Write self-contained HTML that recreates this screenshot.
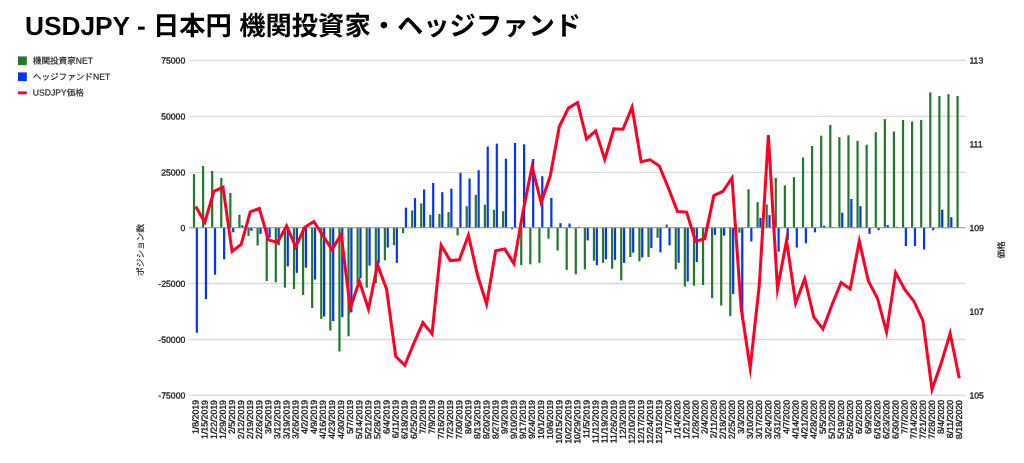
<!DOCTYPE html><html><head><meta charset="utf-8"><title>USDJPY</title><style>html,body{margin:0;padding:0;background:#fff}svg{display:block}text{font-family:"Liberation Sans","Noto Sans CJK JP",sans-serif;text-rendering:geometricPrecision}</style></head><body>
<svg style="will-change:transform;filter:blur(0.3px)" width="1024" height="463" viewBox="0 0 1024 463">
<rect width="1024" height="463" fill="#fff"/>
<text x="24.9" y="35.4" font-size="26.3" font-weight="bold" fill="#000">USDJPY - 日本円 機関投資家・ヘッジファンド</text>
<rect x="18" y="56.4" width="8.8" height="8.7" fill="#207a2a"/>
<rect x="18" y="72.4" width="8.8" height="8.7" fill="#0433ff"/>
<rect x="18" y="91.4" width="8.8" height="2.9" fill="#ff0024"/>
<g font-size="8.6" fill="#1a1a1a" stroke="#1a1a1a" stroke-width="0.15">
<text transform="translate(32.8 63.7) rotate(0.05)">機関投資家NET</text>
<text transform="translate(32.8 79.7) rotate(0.05)">ヘッジファンドNET</text>
<text transform="translate(32.8 95.6) rotate(0.05)">USDJPY価格</text>
</g>
<g stroke="#dadada" stroke-width="1.3">
<line x1="189.2" x2="965.5" y1="60.3" y2="60.3"/>
<line x1="189.2" x2="965.5" y1="116.3" y2="116.3"/>
<line x1="189.2" x2="965.5" y1="172.3" y2="172.3"/>
<line x1="189.2" x2="965.5" y1="283.5" y2="283.5"/>
<line x1="189.2" x2="965.5" y1="339.5" y2="339.5"/>
<line x1="189.2" x2="965.5" y1="395.3" y2="395.3"/>
</g>
<g fill="#207a2a">
<rect x="192.9" y="174.1" width="2.2" height="53.65"/>
<rect x="201.99" y="166.1" width="2.2" height="61.65"/>
<rect x="211.08" y="171" width="2.2" height="56.75"/>
<rect x="220.17" y="177.8" width="2.2" height="49.95"/>
<rect x="229.26" y="193" width="2.2" height="34.75"/>
<rect x="238.35" y="214.8" width="2.2" height="12.95"/>
<rect x="247.44" y="227.75" width="2.2" height="8.05"/>
<rect x="256.53" y="227.75" width="2.2" height="17.75"/>
<rect x="265.62" y="227.75" width="2.2" height="53.25"/>
<rect x="274.71" y="227.75" width="2.2" height="54.55"/>
<rect x="283.8" y="227.75" width="2.2" height="59.85"/>
<rect x="292.89" y="227.75" width="2.2" height="61.25"/>
<rect x="301.98" y="227.75" width="2.2" height="67.15"/>
<rect x="311.07" y="227.75" width="2.2" height="80.25"/>
<rect x="320.16" y="227.75" width="2.2" height="91.15"/>
<rect x="329.25" y="227.75" width="2.2" height="102.75"/>
<rect x="338.34" y="227.75" width="2.2" height="123.75"/>
<rect x="347.43" y="227.75" width="2.2" height="108.55"/>
<rect x="356.52" y="227.75" width="2.2" height="55.75"/>
<rect x="365.61" y="227.75" width="2.2" height="59.95"/>
<rect x="374.7" y="227.75" width="2.2" height="55.25"/>
<rect x="383.79" y="227.75" width="2.2" height="32.55"/>
<rect x="392.88" y="227.75" width="2.2" height="17.45"/>
<rect x="401.97" y="227.75" width="2.2" height="5.35"/>
<rect x="411.06" y="210.4" width="2.2" height="17.35"/>
<rect x="420.15" y="203.4" width="2.2" height="24.35"/>
<rect x="429.24" y="214.8" width="2.2" height="12.95"/>
<rect x="438.33" y="214" width="2.2" height="13.75"/>
<rect x="447.42" y="212.1" width="2.2" height="15.65"/>
<rect x="456.51" y="227.75" width="2.2" height="7.65"/>
<rect x="465.6" y="206.2" width="2.2" height="21.55"/>
<rect x="474.69" y="194.8" width="2.2" height="32.95"/>
<rect x="483.78" y="204.7" width="2.2" height="23.05"/>
<rect x="492.87" y="209.7" width="2.2" height="18.05"/>
<rect x="501.96" y="211.2" width="2.2" height="16.55"/>
<rect x="511.05" y="227.75" width="2.2" height="1.55"/>
<rect x="520.14" y="227.75" width="2.2" height="37.45"/>
<rect x="529.23" y="227.75" width="2.2" height="36.55"/>
<rect x="538.32" y="227.75" width="2.2" height="35.15"/>
<rect x="547.41" y="227.75" width="2.2" height="10.95"/>
<rect x="556.5" y="227.75" width="2.2" height="22.75"/>
<rect x="565.59" y="227.75" width="2.2" height="42.15"/>
<rect x="574.68" y="227.75" width="2.2" height="46.65"/>
<rect x="583.77" y="227.75" width="2.2" height="41.65"/>
<rect x="592.86" y="227.75" width="2.2" height="32.85"/>
<rect x="601.95" y="227.75" width="2.2" height="35.15"/>
<rect x="611.04" y="227.75" width="2.2" height="40.95"/>
<rect x="620.13" y="227.75" width="2.2" height="52.55"/>
<rect x="629.22" y="227.75" width="2.2" height="29.25"/>
<rect x="638.31" y="227.75" width="2.2" height="33.55"/>
<rect x="647.4" y="227.75" width="2.2" height="29.25"/>
<rect x="656.49" y="227.75" width="2.2" height="10.05"/>
<rect x="665.58" y="224.5" width="2.2" height="3.25"/>
<rect x="674.67" y="227.75" width="2.2" height="41.55"/>
<rect x="683.76" y="227.75" width="2.2" height="58.75"/>
<rect x="692.85" y="227.75" width="2.2" height="57.85"/>
<rect x="701.94" y="227.75" width="2.2" height="57.25"/>
<rect x="711.03" y="227.75" width="2.2" height="70.45"/>
<rect x="720.12" y="227.75" width="2.2" height="77.75"/>
<rect x="729.21" y="227.75" width="2.2" height="88.55"/>
<rect x="738.3" y="227.75" width="2.2" height="4.95"/>
<rect x="747.39" y="189.3" width="2.2" height="38.45"/>
<rect x="756.48" y="202.1" width="2.2" height="25.65"/>
<rect x="765.57" y="204.4" width="2.2" height="23.35"/>
<rect x="774.66" y="178" width="2.2" height="49.75"/>
<rect x="783.75" y="185.4" width="2.2" height="42.35"/>
<rect x="792.84" y="177.2" width="2.2" height="50.55"/>
<rect x="801.93" y="157.5" width="2.2" height="70.25"/>
<rect x="811.02" y="146" width="2.2" height="81.75"/>
<rect x="820.11" y="135.7" width="2.2" height="92.05"/>
<rect x="829.2" y="125" width="2.2" height="102.75"/>
<rect x="838.29" y="137.2" width="2.2" height="90.55"/>
<rect x="847.38" y="135.3" width="2.2" height="92.45"/>
<rect x="856.47" y="140.9" width="2.2" height="86.85"/>
<rect x="865.56" y="144.7" width="2.2" height="83.05"/>
<rect x="874.65" y="132.2" width="2.2" height="95.55"/>
<rect x="883.74" y="119.2" width="2.2" height="108.55"/>
<rect x="892.83" y="131.5" width="2.2" height="96.25"/>
<rect x="901.92" y="120" width="2.2" height="107.75"/>
<rect x="911.01" y="121.5" width="2.2" height="106.25"/>
<rect x="920.1" y="120" width="2.2" height="107.75"/>
<rect x="929.19" y="92.4" width="2.2" height="135.35"/>
<rect x="938.28" y="96" width="2.2" height="131.75"/>
<rect x="947.37" y="94.2" width="2.2" height="133.55"/>
<rect x="956.46" y="96" width="2.2" height="131.75"/>
</g>
<g fill="#0433ff">
<rect x="195.75" y="227.75" width="2.2" height="104.95"/>
<rect x="204.84" y="227.75" width="2.2" height="71.35"/>
<rect x="213.93" y="227.75" width="2.2" height="46.95"/>
<rect x="223.02" y="227.75" width="2.2" height="31.55"/>
<rect x="232.11" y="227.75" width="2.2" height="4.55"/>
<rect x="241.2" y="225.3" width="2.2" height="2.45"/>
<rect x="250.29" y="227.75" width="2.2" height="3.05"/>
<rect x="259.38" y="227.75" width="2.2" height="6.15"/>
<rect x="268.47" y="227.75" width="2.2" height="9.85"/>
<rect x="277.56" y="227.75" width="2.2" height="17.45"/>
<rect x="286.65" y="227.75" width="2.2" height="38.65"/>
<rect x="295.74" y="227.75" width="2.2" height="45.15"/>
<rect x="304.83" y="227.75" width="2.2" height="39.95"/>
<rect x="313.92" y="227.75" width="2.2" height="51.85"/>
<rect x="323.01" y="227.75" width="2.2" height="88.85"/>
<rect x="332.1" y="227.75" width="2.2" height="93.25"/>
<rect x="341.19" y="227.75" width="2.2" height="89.45"/>
<rect x="350.28" y="227.75" width="2.2" height="84.55"/>
<rect x="359.37" y="227.75" width="2.2" height="50.55"/>
<rect x="368.46" y="227.75" width="2.2" height="37.85"/>
<rect x="377.55" y="227.75" width="2.2" height="35.75"/>
<rect x="386.64" y="227.75" width="2.2" height="19.75"/>
<rect x="395.73" y="227.75" width="2.2" height="35.15"/>
<rect x="404.82" y="207.7" width="2.2" height="20.05"/>
<rect x="413.91" y="198.1" width="2.2" height="29.65"/>
<rect x="423" y="189.5" width="2.2" height="38.25"/>
<rect x="432.09" y="183" width="2.2" height="44.75"/>
<rect x="441.18" y="192.2" width="2.2" height="35.55"/>
<rect x="450.27" y="188.8" width="2.2" height="38.95"/>
<rect x="459.36" y="172.9" width="2.2" height="54.85"/>
<rect x="468.45" y="178.5" width="2.2" height="49.25"/>
<rect x="477.54" y="170.2" width="2.2" height="57.55"/>
<rect x="486.63" y="146.5" width="2.2" height="81.25"/>
<rect x="495.72" y="143.6" width="2.2" height="84.15"/>
<rect x="504.81" y="158.7" width="2.2" height="69.05"/>
<rect x="513.9" y="143" width="2.2" height="84.75"/>
<rect x="522.99" y="144.4" width="2.2" height="83.35"/>
<rect x="532.08" y="159" width="2.2" height="68.75"/>
<rect x="541.17" y="176.2" width="2.2" height="51.55"/>
<rect x="550.26" y="198" width="2.2" height="29.75"/>
<rect x="559.35" y="223.2" width="2.2" height="4.55"/>
<rect x="568.44" y="223.5" width="2.2" height="4.25"/>
<rect x="577.53" y="226.8" width="2.2" height="0.95"/>
<rect x="586.62" y="227.75" width="2.2" height="12.65"/>
<rect x="595.71" y="227.75" width="2.2" height="37.45"/>
<rect x="604.8" y="227.75" width="2.2" height="31.55"/>
<rect x="613.89" y="227.75" width="2.2" height="32.15"/>
<rect x="622.98" y="227.75" width="2.2" height="35.15"/>
<rect x="632.07" y="227.75" width="2.2" height="24.85"/>
<rect x="641.16" y="227.75" width="2.2" height="29.75"/>
<rect x="650.25" y="227.75" width="2.2" height="20.35"/>
<rect x="659.34" y="227.75" width="2.2" height="24.65"/>
<rect x="668.43" y="227.75" width="2.2" height="17.55"/>
<rect x="677.52" y="227.75" width="2.2" height="35.05"/>
<rect x="686.61" y="227.75" width="2.2" height="53.75"/>
<rect x="695.7" y="227.75" width="2.2" height="34.25"/>
<rect x="704.79" y="227.75" width="2.2" height="8.75"/>
<rect x="713.88" y="227.75" width="2.2" height="7.15"/>
<rect x="722.97" y="227.75" width="2.2" height="7.95"/>
<rect x="732.06" y="227.75" width="2.2" height="66.15"/>
<rect x="741.15" y="227.75" width="2.2" height="91.95"/>
<rect x="750.24" y="227.75" width="2.2" height="13.75"/>
<rect x="759.33" y="217.8" width="2.2" height="9.95"/>
<rect x="768.42" y="215.1" width="2.2" height="12.65"/>
<rect x="777.51" y="227.75" width="2.2" height="23.95"/>
<rect x="786.6" y="227.75" width="2.2" height="12.35"/>
<rect x="795.69" y="227.75" width="2.2" height="19.85"/>
<rect x="804.78" y="227.75" width="2.2" height="15.55"/>
<rect x="813.87" y="227.75" width="2.2" height="4.55"/>
<rect x="822.96" y="225.7" width="2.2" height="2.05"/>
<rect x="832.05" y="227.1" width="2.2" height="0.65"/>
<rect x="841.14" y="212.7" width="2.2" height="15.05"/>
<rect x="850.23" y="199" width="2.2" height="28.75"/>
<rect x="859.32" y="206.2" width="2.2" height="21.55"/>
<rect x="868.41" y="227.75" width="2.2" height="6.15"/>
<rect x="877.5" y="227.75" width="2.2" height="2.45"/>
<rect x="886.59" y="225.1" width="2.2" height="2.65"/>
<rect x="895.68" y="226.8" width="2.2" height="0.95"/>
<rect x="904.77" y="227.75" width="2.2" height="18.35"/>
<rect x="913.86" y="227.75" width="2.2" height="18.35"/>
<rect x="922.95" y="227.75" width="2.2" height="21.75"/>
<rect x="932.04" y="227.75" width="2.2" height="2.45"/>
<rect x="941.13" y="209.7" width="2.2" height="18.05"/>
<rect x="950.22" y="217.2" width="2.2" height="10.55"/>
</g>
<line x1="189.2" x2="965.5" y1="227.75" y2="227.75" stroke="#8a8a8a" stroke-width="1"/>
<polyline fill="none" stroke="#ff0024" stroke-width="3" stroke-linejoin="miter" stroke-miterlimit="10" points="195.7,206.6 204.79,222.2 213.88,191.3 222.97,187.1 232.06,251.5 241.15,244.4 250.24,211.9 259.33,208.4 268.42,239.9 277.51,242.4 286.6,225.8 295.69,246.9 304.78,227.3 313.87,221.5 322.96,235.7 332.05,249.6 341.14,234.2 350.23,308.2 359.32,281.1 368.41,309.2 377.5,264.7 386.59,289.2 395.68,356.2 404.77,365.2 413.86,343.2 422.95,322.6 432.04,333.9 441.13,245.1 450.22,260.6 459.31,259.8 468.4,235.2 477.49,275 486.58,304 495.67,250.8 504.76,248.9 513.85,263.6 522.94,212 532.03,166.5 541.12,202.7 550.21,176 559.3,126.5 568.39,108.1 577.48,102.5 586.57,138.9 595.66,130.8 604.75,159.5 613.84,128.8 622.93,129.2 632.02,107.1 641.11,161.7 650.2,159.8 659.29,165.9 668.38,188 677.47,211.6 686.56,212.1 695.65,241.5 704.74,238.8 713.83,195.6 722.92,191.4 732.01,178 741.1,307.8 750.19,368.2 759.28,285 768.37,135.1 777.46,288.7 786.55,240.6 795.64,303.2 804.73,278.7 813.82,317.2 822.91,329 832,304.7 841.09,282.5 850.18,289 859.27,241.1 868.36,281 877.45,298.2 886.54,331.9 895.63,272.6 904.72,289.5 913.81,301.2 922.9,320.6 931.99,389.5 941.08,363.5 950.17,333.4 959.26,378.2"/>
<g font-size="8.7" fill="#1a1a1a" stroke="#1a1a1a" stroke-width="0.3">
<text transform="translate(185.3 63.55) rotate(0.05)" text-anchor="end">75000</text>
<text transform="translate(185.3 119.55) rotate(0.05)" text-anchor="end">50000</text>
<text transform="translate(185.3 175.55) rotate(0.05)" text-anchor="end">25000</text>
<text transform="translate(185.3 231) rotate(0.05)" text-anchor="end">0</text>
<text transform="translate(185.3 286.75) rotate(0.05)" text-anchor="end">-25000</text>
<text transform="translate(185.3 342.75) rotate(0.05)" text-anchor="end">-50000</text>
<text transform="translate(185.3 398.55) rotate(0.05)" text-anchor="end">-75000</text>
<text transform="translate(969.4 63.55) rotate(0.05)">113</text>
<text transform="translate(969.4 147.3) rotate(0.05)">111</text>
<text transform="translate(969.4 231.05) rotate(0.05)">109</text>
<text transform="translate(969.4 314.8) rotate(0.05)">107</text>
<text transform="translate(969.4 398.55) rotate(0.05)">105</text>
</g>
<g font-size="8.75" fill="#111" stroke="#111" stroke-width="0.3" text-anchor="end">
<text transform="translate(198.55 400) rotate(-89.9)">1/8/2019</text>
<text transform="translate(207.64 400) rotate(-89.9)">1/15/2019</text>
<text transform="translate(216.73 400) rotate(-89.9)">1/22/2019</text>
<text transform="translate(225.82 400) rotate(-89.9)">1/29/2019</text>
<text transform="translate(234.91 400) rotate(-89.9)">2/5/2019</text>
<text transform="translate(244 400) rotate(-89.9)">2/12/2019</text>
<text transform="translate(253.09 400) rotate(-89.9)">2/19/2019</text>
<text transform="translate(262.18 400) rotate(-89.9)">2/26/2019</text>
<text transform="translate(271.27 400) rotate(-89.9)">3/5/2019</text>
<text transform="translate(280.36 400) rotate(-89.9)">3/12/2019</text>
<text transform="translate(289.45 400) rotate(-89.9)">3/19/2019</text>
<text transform="translate(298.54 400) rotate(-89.9)">3/26/2019</text>
<text transform="translate(307.63 400) rotate(-89.9)">4/2/2019</text>
<text transform="translate(316.72 400) rotate(-89.9)">4/9/2019</text>
<text transform="translate(325.81 400) rotate(-89.9)">4/16/2019</text>
<text transform="translate(334.9 400) rotate(-89.9)">4/23/2019</text>
<text transform="translate(343.99 400) rotate(-89.9)">4/30/2019</text>
<text transform="translate(353.08 400) rotate(-89.9)">5/7/2019</text>
<text transform="translate(362.17 400) rotate(-89.9)">5/14/2019</text>
<text transform="translate(371.26 400) rotate(-89.9)">5/21/2019</text>
<text transform="translate(380.35 400) rotate(-89.9)">5/28/2019</text>
<text transform="translate(389.44 400) rotate(-89.9)">6/4/2019</text>
<text transform="translate(398.53 400) rotate(-89.9)">6/11/2019</text>
<text transform="translate(407.62 400) rotate(-89.9)">6/18/2019</text>
<text transform="translate(416.71 400) rotate(-89.9)">6/25/2019</text>
<text transform="translate(425.8 400) rotate(-89.9)">7/2/2019</text>
<text transform="translate(434.89 400) rotate(-89.9)">7/9/2019</text>
<text transform="translate(443.98 400) rotate(-89.9)">7/16/2019</text>
<text transform="translate(453.07 400) rotate(-89.9)">7/23/2019</text>
<text transform="translate(462.16 400) rotate(-89.9)">7/30/2019</text>
<text transform="translate(471.25 400) rotate(-89.9)">8/6/2019</text>
<text transform="translate(480.34 400) rotate(-89.9)">8/13/2019</text>
<text transform="translate(489.43 400) rotate(-89.9)">8/20/2019</text>
<text transform="translate(498.52 400) rotate(-89.9)">8/27/2019</text>
<text transform="translate(507.61 400) rotate(-89.9)">9/3/2019</text>
<text transform="translate(516.7 400) rotate(-89.9)">9/10/2019</text>
<text transform="translate(525.79 400) rotate(-89.9)">9/17/2019</text>
<text transform="translate(534.88 400) rotate(-89.9)">9/24/2019</text>
<text transform="translate(543.97 400) rotate(-89.9)">10/1/2019</text>
<text transform="translate(553.06 400) rotate(-89.9)">10/8/2019</text>
<text transform="translate(562.15 400) rotate(-89.9)">10/15/2019</text>
<text transform="translate(571.24 400) rotate(-89.9)">10/22/2019</text>
<text transform="translate(580.33 400) rotate(-89.9)">10/29/2019</text>
<text transform="translate(589.42 400) rotate(-89.9)">11/5/2019</text>
<text transform="translate(598.51 400) rotate(-89.9)">11/12/2019</text>
<text transform="translate(607.6 400) rotate(-89.9)">11/19/2019</text>
<text transform="translate(616.69 400) rotate(-89.9)">11/26/2019</text>
<text transform="translate(625.78 400) rotate(-89.9)">12/3/2019</text>
<text transform="translate(634.87 400) rotate(-89.9)">12/10/2019</text>
<text transform="translate(643.96 400) rotate(-89.9)">12/17/2019</text>
<text transform="translate(653.05 400) rotate(-89.9)">12/24/2019</text>
<text transform="translate(662.14 400) rotate(-89.9)">12/31/2019</text>
<text transform="translate(671.23 400) rotate(-89.9)">1/7/2020</text>
<text transform="translate(680.32 400) rotate(-89.9)">1/14/2020</text>
<text transform="translate(689.41 400) rotate(-89.9)">1/21/2020</text>
<text transform="translate(698.5 400) rotate(-89.9)">1/28/2020</text>
<text transform="translate(707.59 400) rotate(-89.9)">2/4/2020</text>
<text transform="translate(716.68 400) rotate(-89.9)">2/11/2020</text>
<text transform="translate(725.77 400) rotate(-89.9)">2/18/2020</text>
<text transform="translate(734.86 400) rotate(-89.9)">2/25/2020</text>
<text transform="translate(743.95 400) rotate(-89.9)">3/3/2020</text>
<text transform="translate(753.04 400) rotate(-89.9)">3/10/2020</text>
<text transform="translate(762.13 400) rotate(-89.9)">3/17/2020</text>
<text transform="translate(771.22 400) rotate(-89.9)">3/24/2020</text>
<text transform="translate(780.31 400) rotate(-89.9)">3/31/2020</text>
<text transform="translate(789.4 400) rotate(-89.9)">4/7/2020</text>
<text transform="translate(798.49 400) rotate(-89.9)">4/14/2020</text>
<text transform="translate(807.58 400) rotate(-89.9)">4/21/2020</text>
<text transform="translate(816.67 400) rotate(-89.9)">4/28/2020</text>
<text transform="translate(825.76 400) rotate(-89.9)">5/5/2020</text>
<text transform="translate(834.85 400) rotate(-89.9)">5/12/2020</text>
<text transform="translate(843.94 400) rotate(-89.9)">5/19/2020</text>
<text transform="translate(853.03 400) rotate(-89.9)">5/26/2020</text>
<text transform="translate(862.12 400) rotate(-89.9)">6/2/2020</text>
<text transform="translate(871.21 400) rotate(-89.9)">6/9/2020</text>
<text transform="translate(880.3 400) rotate(-89.9)">6/16/2020</text>
<text transform="translate(889.39 400) rotate(-89.9)">6/23/2020</text>
<text transform="translate(898.48 400) rotate(-89.9)">6/30/2020</text>
<text transform="translate(907.57 400) rotate(-89.9)">7/7/2020</text>
<text transform="translate(916.66 400) rotate(-89.9)">7/14/2020</text>
<text transform="translate(925.75 400) rotate(-89.9)">7/21/2020</text>
<text transform="translate(934.84 400) rotate(-89.9)">7/28/2020</text>
<text transform="translate(943.93 400) rotate(-89.9)">8/4/2020</text>
<text transform="translate(953.02 400) rotate(-89.9)">8/11/2020</text>
<text transform="translate(962.11 400) rotate(-89.9)">8/18/2020</text>
</g>
<g font-size="8.7" fill="#1a1a1a" stroke="#1a1a1a" stroke-width="0.15" text-anchor="middle">
<text transform="translate(143.4 249.9) rotate(-89.95)">ポジション数</text>
<text transform="translate(1004.3 249.9) rotate(-89.95)">価格</text>
</g>
</svg></body></html>
